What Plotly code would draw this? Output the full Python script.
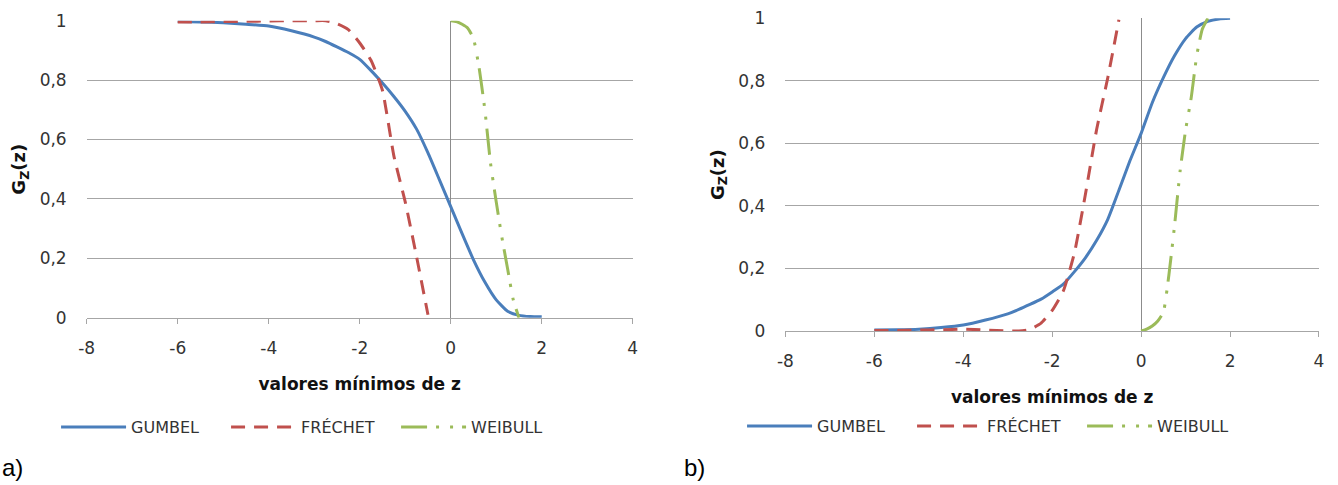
import plotly.graph_objects as go

# ---------------- data ----------------
x_gumbel = [-6, -5.5, -5, -4.5, -4, -3.5, -3, -2.75, -2.5, -2.25, -2, -1.75, -1.5,
            -1.25, -1, -0.75, -0.5, -0.25, 0, 0.25, 0.5, 0.75, 1, 1.25, 1.5, 1.75, 2]
a_gumbel = [0.997, 0.996, 0.993, 0.988, 0.982, 0.966, 0.945, 0.93, 0.912, 0.893, 0.87, 0.832, 0.79,
            0.745, 0.695, 0.635, 0.555, 0.465, 0.374, 0.283, 0.195, 0.12, 0.06, 0.022, 0.008, 0.004, 0.003]
b_gumbel = [0.003, 0.004, 0.006, 0.011, 0.019, 0.035, 0.055, 0.069, 0.085, 0.102, 0.125, 0.15, 0.19,
            0.235, 0.29, 0.357, 0.45, 0.545, 0.632, 0.73, 0.81, 0.88, 0.935, 0.972, 0.99, 0.998, 1.0]

x_frechet = [-6, -5.5, -5, -4.5, -4, -3.5, -3, -2.75, -2.5, -2.25, -2, -1.75, -1.5, -1.25, -1, -0.75, -0.5]
a_frechet = [0.996, 0.996, 0.997, 0.998, 0.999, 1.0, 1.0, 1.0, 0.99, 0.97, 0.925, 0.866, 0.765, 0.545, 0.39, 0.205, 0.01]
b_frechet = [0.002, 0.002, 0.003, 0.004, 0.006, 0.003, 0.0, 0.0, 0.005, 0.025, 0.066, 0.128, 0.25, 0.44, 0.645, 0.81, 0.995]

x_weibull = [0, 0.125, 0.25, 0.375, 0.5, 0.625, 0.75, 0.875, 1.0, 1.125, 1.25, 1.375, 1.5]
a_weibull = [1.0, 0.997, 0.988, 0.975, 0.94, 0.84, 0.70, 0.52, 0.39, 0.27, 0.165, 0.06, 0.0]
b_weibull = [0.0, 0.006, 0.016, 0.032, 0.06, 0.18, 0.335, 0.51, 0.643, 0.745, 0.88, 0.965, 1.0]

series_names = ["GUMBEL", "FRÉCHET", "WEIBULL"]
x_ticks = [-8, -6, -4, -2, 0, 2, 4]
x_ticktext = ["-8", "-6", "-4", "-2", "0", "2", "4"]
y_ticks = [0, 0.2, 0.4, 0.6, 0.8, 1.0]
y_ticktext = ["0", "0,2", "0,4", "0,6", "0,8", "1"]

# ---------------- styling ----------------
FONT = "DejaVu Sans"
colors = ["#4A7EBB", "#C0504D", "#9BBB59"]
dashes = ["solid", "14px,9px", "26px,9px,3px,11px,3px,9px"]
GRID = "#A6A6A6"
TXT = "#333333"

fig = go.Figure()
panels = [
    ("x", "y", "legend", [a_gumbel, a_frechet, a_weibull]),
    ("x2", "y2", "legend2", [b_gumbel, b_frechet, b_weibull]),
]
xs = [x_gumbel, x_frechet, x_weibull]
for xa, ya, leg, ys in panels:
    for i in range(3):
        fig.add_trace(go.Scatter(
            x=xs[i], y=ys[i], name=series_names[i], mode="lines",
            line=dict(color=colors[i], width=3, dash=dashes[i], shape="spline", smoothing=0.5),
            xaxis=xa, yaxis=ya, legend=leg, showlegend=True,
        ))

def xaxis_cfg(domain, anchor):
    return dict(
        domain=domain, anchor=anchor, range=[-8, 4], tickvals=x_ticks, ticktext=x_ticktext,
        showgrid=False, zeroline=True, zerolinecolor="#8C8C8C", zerolinewidth=1,
        showline=True, linecolor=GRID, linewidth=1, ticks="outside", ticklen=5, tickcolor=GRID,
        tickfont=dict(family=FONT, size=17, color=TXT), ticklabelstandoff=10,
        title=dict(text="<b>valores mínimos de z</b>", font=dict(family=FONT, size=17, color="#111"), standoff=20),
        automargin=False, fixedrange=True,
    )

def yaxis_cfg(domain, anchor):
    return dict(
        domain=domain, anchor=anchor, range=[0, 1], tickvals=y_ticks, ticktext=y_ticktext,
        showgrid=True, gridcolor=GRID, gridwidth=1, zeroline=False, showline=False, ticks="",
        tickfont=dict(family=FONT, size=17, color=TXT), ticklabelstandoff=19,
        title=dict(text="<b>G<sub>Z</sub>(z)</b>", font=dict(family=FONT, size=18, color="#111"), standoff=9),
        automargin=False, fixedrange=True,
    )

def legend_cfg(x, y):
    return dict(
        orientation="h", x=x, y=y, xanchor="left", yanchor="middle",
        font=dict(family=FONT, size=16, color=TXT), itemwidth=65,
        entrywidth=90, entrywidthmode="pixels", bgcolor="rgba(0,0,0,0)", borderwidth=0,
        itemclick=False, itemdoubleclick=False,
    )

fig.update_layout(
    width=1338, height=485, margin=dict(l=0, r=0, t=0, b=0, autoexpand=False),
    paper_bgcolor="white", plot_bgcolor="white",
    xaxis=xaxis_cfg([0.0648, 0.4729], "y"),
    yaxis=yaxis_cfg([0.3449, 0.9573], "x"),
    xaxis2=xaxis_cfg([0.587, 0.9858], "y2"),
    yaxis2=yaxis_cfg([0.3175, 0.9623], "x2"),
    legend=legend_cfg(0.0419, 0.1196),
    legend2=legend_cfg(0.5546, 0.1216),
    annotations=[
        dict(text="a)", xref="paper", yref="paper", x=0.0, y=0.037, xanchor="left", yanchor="middle",
             showarrow=False, font=dict(family="Liberation Sans", size=24, color="#000")),
        dict(text="b)", xref="paper", yref="paper", x=0.5095, y=0.037, xanchor="left", yanchor="middle",
             showarrow=False, font=dict(family="Liberation Sans", size=24, color="#000")),
    ],
)

fig.write_html("out.html")
